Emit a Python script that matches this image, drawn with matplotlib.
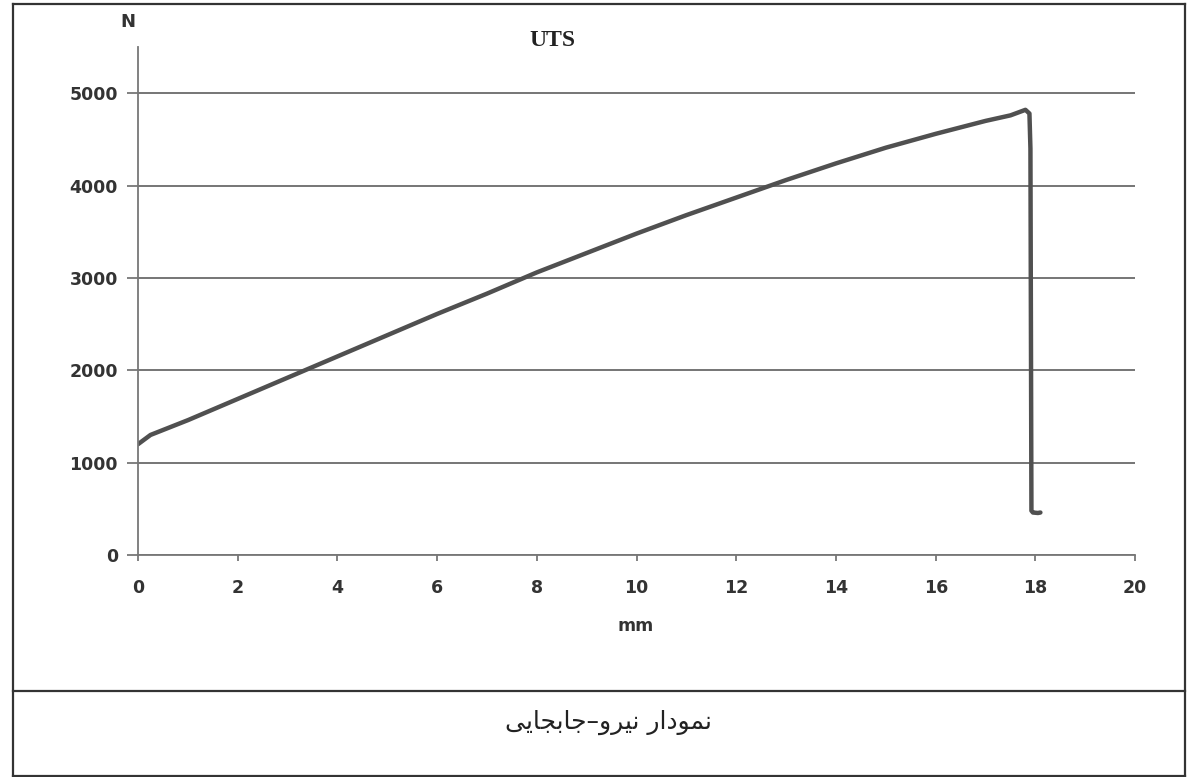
import numpy as np
import matplotlib
matplotlib.use("Agg")
import matplotlib.pyplot as plt
from matplotlib.lines import Line2D

# displacement (mm) and force (N)
disp = [0.0, 0.25, 1, 2, 3, 4, 5, 6, 7, 8, 9, 10, 11, 12, 13, 14, 15, 16, 17,
        17.5, 17.8, 17.88, 17.9, 17.92, 17.95, 18.05, 18.1]
force = [1200, 1300, 1460, 1690, 1920, 2150, 2380, 2610, 2830, 3060, 3270,
         3480, 3680, 3870, 4060, 4240, 4410, 4560, 4700, 4760, 4820, 4780,
         4400, 480, 460, 455, 460]

xticks = [0, 2, 4, 6, 8, 10, 12, 14, 16, 18, 20]
yticks = [0, 1000, 2000, 3000, 4000, 5000]

title = "UTS"
xlabel = "mm"
ylabel = "N"
# "نمودار نیرو-جابجایی" written as shaped glyphs in display order
caption_logical = ["\uFEE7", "\uFEE4", "\uFEEE", "\uFEA9", "\uFE8D", "\uFEAD", " ",
                   "\uFEE7", "\uFBFF", "\uFEAE", "\uFEED", "\u2013",
                   "\uFE9F", "\uFE8E", "\uFE91", "\uFEA0", "\uFE8E", "\uFBFE", "\uFBFD"]
caption = "".join(reversed(caption_logical))

fig = plt.figure(figsize=(11.87, 7.77), dpi=100)
ax = fig.add_axes([0.1163, 0.2857, 0.840, 0.6538])

ax.plot(disp, force, color="#505050", lw=3.2, solid_joinstyle="round", solid_capstyle="round")

ax.set_xlim(0, 20)
ax.set_ylim(0, 5500)
ax.set_xticks(xticks)
ax.set_yticks(yticks)
ax.yaxis.grid(True, color="#6a6a6a", lw=1.3)
ax.set_axisbelow(True)
for s in ["top", "right"]:
    ax.spines[s].set_visible(False)
for s in ["left", "bottom"]:
    ax.spines[s].set_color("#777777")
    ax.spines[s].set_linewidth(1.3)
ax.tick_params(axis="x", direction="out", length=4.5, width=1.3, color="#777777", pad=13)
ax.tick_params(axis="y", direction="out", length=8, width=1.3, color="#777777", pad=6.5)
for lab in ax.get_xticklabels() + ax.get_yticklabels():
    lab.set_fontfamily("DejaVu Sans")
    lab.set_fontweight("bold")
    lab.set_fontsize(12.5)
    lab.set_color("#333333")

fig.text(128 / 1187, 1 - 22 / 777, ylabel, family="DejaVu Sans", weight="bold", size=13,
         color="#333333", ha="center", va="center")
fig.text(636 / 1187, 1 - 626 / 777, xlabel, family="DejaVu Sans", weight="bold", size=12.5,
         color="#333333", ha="center", va="center")
fig.text(552 / 1187, 1 - 41 / 777, title, family="Liberation Serif", weight="bold", size=17,
         color="#222222", ha="center", va="center")
fig.text(608 / 1187, 1 - 722 / 777, caption, family=["DejaVu Sans"], size=18,
         color="#222222", ha="center", va="center")

# outer frame and the separator of the caption row
W, H = 1187.0, 777.0
frame = [((13, 13), (4, 777)), ((13, 1185), (4, 4)), ((1185, 1185), (4, 777)),
         ((13, 1185), (776, 776)), ((13, 1185), (691, 691))]
for xs, ys in frame:
    fig.add_artist(Line2D([x / W for x in xs], [1 - y / H for y in ys],
                          color="#333333", lw=1.6))

fig.savefig("out.png", dpi=100)
